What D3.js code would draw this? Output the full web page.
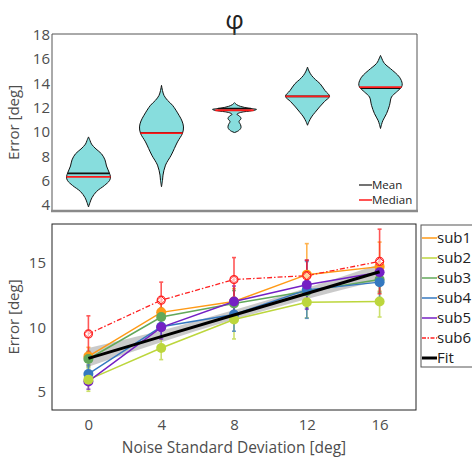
<!DOCTYPE html>
<html>
<head>
<meta charset="utf-8">
<title>phi error</title>
<style>
  body { margin: 0; background: white; }
  text { font-family: "Open Sans", "Noto Sans", sans-serif; }
</style>
</head>
<body>
<div id="chart"></div>
<script src="https://cdn.jsdelivr.net/npm/d3@7"></script>
<script>
// ---- top panel: violin profiles (value, half width in px)
var violinPos = [1, 2, 3, 4, 5];
var v1Vals = [3.83, 4.2, 4.6, 5.1, 5.6, 6.0, 6.3, 6.7, 7.2, 7.7, 8.2, 8.6, 9.0, 9.3, 9.59];
var v1Half = [0, 1.5, 3.5, 8, 16, 21, 22, 20.5, 18, 16.5, 13, 7.5, 3, 1.5, 0];
var v2Vals = [5.49, 6.0, 6.45, 7.27, 8.09, 9.18, 9.89, 10.41, 10.9, 11.37, 12.19, 12.6, 13.0, 13.4, 13.83];
var v2Half = [0, 1, 1.5, 4, 9.7, 16, 21, 22, 20.5, 17.5, 11, 6, 2.5, 1, 0];
var v3Vals = [9.95, 10.1, 10.35, 10.6, 10.85, 11.1, 11.3, 11.45, 11.6, 11.75, 11.85, 11.95, 12.1, 12.25, 12.41];
var v3Half = [0, 4, 6.5, 6, 4.5, 6.5, 5, 2.5, 6, 18, 22, 14, 6, 2, 0];
var v4Vals = [10.55, 10.85, 11.23, 11.6, 12.05, 12.5, 12.93, 13.4, 13.97, 14.3, 14.65, 15.0, 15.33];
var v4Half = [0, 1.5, 4, 7.5, 12, 17, 22, 17.5, 12.5, 8, 4, 1.5, 0];
var v5Vals = [10.28, 10.6, 10.96, 11.5, 12.19, 12.87, 13.28, 13.69, 13.97, 14.5, 15.2, 15.5, 15.74, 16.0, 16.29];
var v5Half = [0, 1, 2.5, 6, 9, 11, 16, 21, 21.7, 19, 10, 5.5, 3, 1.5, 0];
var means = [6.6, 9.93, 11.92, 12.93, 13.6];
var medians = [6.3, 9.9, 11.78, 12.93, 13.69];
var topTicks = [4, 6, 8, 10, 12, 14, 16, 18];

// ---- bottom panel
var noise = [0, 4, 8, 12, 16];
var subNames = ["sub1", "sub2", "sub3", "sub4", "sub5", "sub6"];
var subColors = ["#ff9a16", "#bcd63c", "#62a85a", "#3478c0", "#7420c4", "#ff2020"];
var sub1 = [7.75, 11.16, 12.0, 14.08, 14.7];
var sub2 = [5.95, 8.4, 10.6, 11.94, 12.0];
var sub3 = [7.55, 10.8, 11.85, 12.8, 13.7];
var sub4 = [6.39, 10.05, 11.0, 12.9, 13.5];
var sub5 = [5.81, 10.0, 12.0, 13.3, 14.26];
var sub6 = [9.49, 12.1, 13.7, 14.0, 15.1];
var err1 = [0.7, 0.8, 1.0, 2.4, 1.9];
var err2 = [0.9, 0.9, 1.5, 1.2, 1.2];
var err3 = [0.6, 0.7, 1.0, 1.3, 1.0];
var err4 = [0.7, 0.8, 1.3, 2.2, 1.2];
var err5 = [0.6, 0.9, 1.2, 1.9, 1.0];
var err6 = [1.4, 1.4, 1.7, 1.2, 2.5];
var fitVals = [7.6, 9.28, 10.95, 12.62, 14.3];
var fitLo = [6.95, 8.85, 10.6, 12.2, 13.62];
var fitHi = [8.4, 9.75, 11.35, 13.05, 14.9];
var bottomTicksX = [0, 4, 8, 12, 16];
var bottomTicksY = [5, 10, 15];

var width = 472, height = 460;
var svg = d3.select("#chart").append("svg")
  .attr("width", width).attr("height", height);

var left = 52, right = 417;
var tickColor = "#4d4d4d";

// ================= top panel =================
var topY0 = 34, topY1 = 211;
var xTop = d3.scaleLinear().domain([0.5, 5.5]).range([left, right]);
var yTop = d3.scaleLinear().domain([3.5, 18.05]).range([topY1, topY0]);
var pxPerUnit = xTop(1) - xTop(0);

svg.append("text")
  .attr("x", (left + right) / 2).attr("y", 29)
  .attr("text-anchor", "middle")
  .attr("font-size", 26)
  .attr("fill", "#222")
  .text("φ");

var profiles = [
  [v1Vals, v1Half], [v2Vals, v2Half], [v3Vals, v3Half], [v4Vals, v4Half], [v5Vals, v5Half]
];

var area = d3.area().curve(d3.curveCatmullRom);

profiles.forEach(function(p, i) {
  var c = violinPos[i];
  var pts = p[0].map(function(v, j) { return { v: v, w: p[1][j] / pxPerUnit }; });
  area.y(function(d) { return yTop(d.v); })
      .x0(function(d) { return xTop(c - d.w); })
      .x1(function(d) { return xTop(c + d.w); });
  svg.append("path")
    .attr("d", area(pts))
    .attr("fill", "#87dddd")
    .attr("stroke", "#111")
    .attr("stroke-width", 1);

  function halfAt(val) {
    for (var j = 1; j < pts.length; j++) {
      if (pts[j].v >= val) {
        var t = (val - pts[j - 1].v) / (pts[j].v - pts[j - 1].v);
        return pts[j - 1].w + t * (pts[j].w - pts[j - 1].w);
      }
    }
    return 0;
  }
  [[means[i], "#111"], [medians[i], "#ff1a1a"]].forEach(function(m) {
    var w = halfAt(m[0]);
    svg.append("line")
      .attr("x1", xTop(c - w)).attr("x2", xTop(c + w))
      .attr("y1", yTop(m[0])).attr("y2", yTop(m[0]))
      .attr("stroke", m[1]).attr("stroke-width", 1.8);
  });
});

// top box
svg.append("path")
  .attr("d", "M" + left + "," + topY1 + "V" + topY0 + "H" + right + "V" + topY1)
  .attr("fill", "none").attr("stroke", "#555").attr("stroke-width", 1);
svg.append("line")
  .attr("x1", left - 1).attr("x2", right + 1).attr("y1", topY1).attr("y2", topY1)
  .attr("stroke", "#8a8a8a").attr("stroke-width", 2.5);

var gyTop = svg.append("g").attr("transform", "translate(" + left + ",0)")
  .call(d3.axisLeft(yTop).tickValues(topTicks).tickSize(0).tickPadding(2));
gyTop.select(".domain").remove();
gyTop.selectAll("text").attr("font-size", 15).attr("fill", tickColor)
  .attr("font-family", "\"Open Sans\", sans-serif");

svg.append("text")
  .attr("transform", "translate(19," + (topY0 + topY1) / 2 + ") rotate(-90)")
  .attr("text-anchor", "middle")
  .attr("font-size", 15).attr("fill", tickColor)
  .text("Error [deg]");

// top legend
[["Mean", "#444"], ["Median", "#ff1a1a"]].forEach(function(d, i) {
  var yy = 185 + i * 15;
  svg.append("line").attr("x1", 359).attr("x2", 372).attr("y1", yy).attr("y2", yy)
    .attr("stroke", d[1]).attr("stroke-width", 1.5);
  svg.append("text").attr("x", 372).attr("y", yy + 4)
    .attr("font-size", 11.5).attr("fill", "#222").text(d[0]);
});

// ================= bottom panel =================
var botY0 = 224, botY1 = 410, botRight = 416;
var xBot = d3.scaleLinear().domain([-2, 18]).range([left, botRight]);
var yBot = d3.scaleLinear().domain([3.6, 18]).range([botY1, botY0]);

var band = noise.map(function(n, i) { return { x: n, lo: fitLo[i], hi: fitHi[i] }; });
svg.append("path")
  .attr("d", d3.area()
    .x(function(d) { return xBot(d.x); })
    .y0(function(d) { return yBot(d.lo); })
    .y1(function(d) { return yBot(d.hi); })
    .curve(d3.curveMonotoneX)(band))
  .attr("fill", "#bdbdbd").attr("opacity", 0.8);

var subs = [sub1, sub2, sub3, sub4, sub5, sub6];
var errs = [err1, err2, err3, err4, err5, err6];
var line = d3.line()
  .x(function(d) { return xBot(d.x); })
  .y(function(d) { return yBot(d.y); });

function pts(vals) { return noise.map(function(n, i) { return { x: n, y: vals[i] }; }); }

// error bars
subs.forEach(function(s, k) {
  s.forEach(function(v, i) {
    var e = errs[k][i], cx = xBot(noise[i]);
    var g = svg.append("g").attr("stroke", subColors[k]).attr("stroke-width", 1.6)
      .attr("opacity", 0.75);
    g.append("line").attr("x1", cx).attr("x2", cx)
      .attr("y1", yBot(v - e)).attr("y2", yBot(v + e));
    [v - e, v + e].forEach(function(t) {
      g.append("line").attr("x1", cx - 2).attr("x2", cx + 2)
        .attr("y1", yBot(t)).attr("y2", yBot(t));
    });
  });
});

// subject lines
subs.forEach(function(s, k) {
  svg.append("path")
    .attr("d", line(pts(s)))
    .attr("fill", "none")
    .attr("stroke", subColors[k])
    .attr("stroke-width", k === 5 ? 1.3 : 1.5)
    .attr("stroke-dasharray", k === 5 ? "5,2,1.5,2" : null);
});

// markers
[0, 2, 3, 4, 1].forEach(function(k) {
  svg.selectAll(null).data(pts(subs[k])).enter().append("circle")
    .attr("cx", function(d) { return xBot(d.x); })
    .attr("cy", function(d) { return yBot(d.y); })
    .attr("r", 5)
    .attr("fill", subColors[k]);
});
// sub6: open circle with diamond
pts(sub6).forEach(function(d) {
  var cx = xBot(d.x), cy = yBot(d.y);
  svg.append("circle").attr("cx", cx).attr("cy", cy).attr("r", 4)
    .attr("fill", "#fff").attr("fill-opacity", 0.6)
    .attr("stroke", subColors[5]).attr("stroke-width", 1.2);
  svg.append("path")
    .attr("d", "M" + cx + "," + (cy - 4) + "L" + (cx + 4) + "," + cy + "L" + cx + "," + (cy + 4) + "L" + (cx - 4) + "," + cy + "Z")
    .attr("fill", "none").attr("stroke", subColors[5]).attr("stroke-width", 1);
});

// fit
svg.append("path")
  .attr("d", line(pts(fitVals)))
  .attr("fill", "none").attr("stroke", "#000").attr("stroke-width", 3);

// bottom box
svg.append("rect")
  .attr("x", left).attr("y", botY0)
  .attr("width", botRight - left).attr("height", botY1 - botY0)
  .attr("fill", "none").attr("stroke", "#222").attr("stroke-width", 1);

var gx = svg.append("g").attr("transform", "translate(0," + botY1 + ")")
  .call(d3.axisBottom(xBot).tickValues(bottomTicksX).tickSize(0).tickPadding(9));
gx.select(".domain").remove();
gx.selectAll("text").attr("font-size", 15).attr("fill", tickColor)
  .attr("font-family", "\"Open Sans\", sans-serif");

var gy = svg.append("g").attr("transform", "translate(" + left + ",0)")
  .call(d3.axisLeft(yBot).tickValues(bottomTicksY).tickSize(0).tickPadding(6));
gy.select(".domain").remove();
gy.selectAll("text").attr("font-size", 15).attr("fill", tickColor)
  .attr("font-family", "\"Open Sans\", sans-serif");

svg.append("text")
  .attr("transform", "translate(19," + (botY0 + botY1) / 2 + ") rotate(-90)")
  .attr("text-anchor", "middle")
  .attr("font-size", 15).attr("fill", tickColor)
  .text("Error [deg]");

svg.append("text")
  .attr("x", (left + botRight) / 2).attr("y", 453)
  .attr("text-anchor", "middle")
  .attr("font-size", 15.5).attr("fill", tickColor)
  .text("Noise Standard Deviation [deg]");

// legend
var legNames = subNames.concat(["Fit"]);
var legColors = subColors.concat(["#000"]);
svg.append("rect")
  .attr("x", 421).attr("y", 225).attr("width", 60).attr("height", 142)
  .attr("fill", "#fff").attr("stroke", "#555").attr("stroke-width", 1);
legNames.forEach(function(n, i) {
  var yy = 238 + i * 20;
  svg.append("line").attr("x1", 422).attr("x2", 437).attr("y1", yy).attr("y2", yy)
    .attr("stroke", legColors[i])
    .attr("stroke-width", i === 6 ? 3 : 1.5)
    .attr("stroke-dasharray", i === 5 ? "4,1.5,1.5,1.5" : null);
  svg.append("text").attr("x", 437).attr("y", yy + 5)
    .attr("font-size", 15).attr("fill", "#222").text(n);
});
</script>
</body>
</html>
